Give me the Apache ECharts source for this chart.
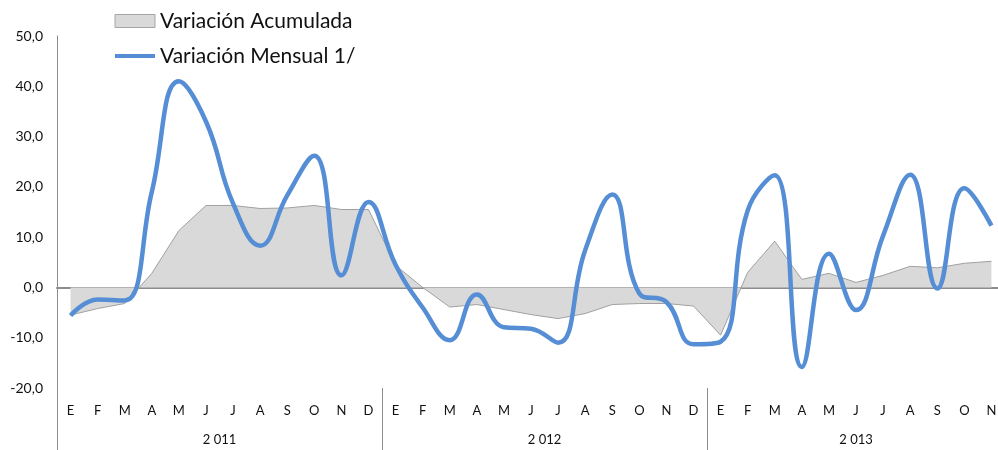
<!DOCTYPE html>
<html>
<head>
<meta charset="utf-8">
<script src="https://cdn.jsdelivr.net/npm/echarts@6/dist/echarts.min.js"></script>
<style>
  html, body { margin: 0; padding: 0; background: #fff; overflow: hidden; }
  #main { width: 1010px; height: 450px; }
</style>
</head>
<body>
<div id="main"></div>
<script>
// categorías: meses 2011, 2012 y 2013 (hasta noviembre)
const months = [
  'E','F','M','A','M','J','J','A','S','O','N','D',
  'E','F','M','A','M','J','J','A','S','O','N','D',
  'E','F','M','A','M','J','J','A','S','O','N'
];
const years = ['2 011', '2 012', '2 013'];
const yearStart = [0, 12, 24];
const yearLength = [12, 12, 11];

const acumulada = [
  -5.5, -4.2, -3.2, 2.8, 11.3, 16.3, 16.3, 15.7, 15.8, 16.3, 15.5, 15.5,
  4.4, 0.0, -3.9, -3.4, -4.4, -5.4, -6.2, -5.2, -3.4, -3.2, -3.2, -3.7,
  -9.5, 3.0, 9.2, 1.6, 2.8, 1.0, 2.4, 4.2, 3.9, 4.8, 5.2
];
const mensual = [
  -5.6, -2.4, -2.6, 19.0, 41.0, 33.0, 16.7, 8.3, 18.3, 26.2, 2.4, 17.0,
  4.5, -4.0, -10.5, -1.4, -7.9, -8.2, -11.0, 7.4, 18.5, -1.2, -2.9, -11.3,
  -10.8, 15.3, 22.3, -15.8, 6.7, -4.5, 10.3, 22.4, -0.2, 19.7, 12.3
];
const yTicks = { min: -20, max: 50, interval: 10 };

const yearMid = yearStart.map((s, i) => s + yearLength[i] / 2);
const font = 'Lato, "Open Sans", sans-serif';

const myChart = echarts.init(document.getElementById('main'));
myChart.setOption({
  animation: false,
  legend: {
    orient: 'vertical',
    left: 108,
    top: 5,
    itemWidth: 40,
    itemHeight: 13,
    itemGap: 13,
    textStyle: { fontFamily: font, fontSize: 21, color: '#111', lineHeight: 22 },
    data: [
      { name: 'Variación Acumulada', icon: 'rect',
        itemStyle: { color: '#d9d9d9', borderColor: '#a5a5a5', borderWidth: 1 } },
      { name: 'Variación Mensual 1/',
        itemStyle: { color: 'rgba(0,0,0,0)', borderWidth: 0 },
        lineStyle: { color: '#558ed5', width: 4 } }
    ]
  },
  // la rejilla sigue más allá del borde derecho, como en el original
  grid: { left: 57, top: 36, right: 5, bottom: 62 },
  xAxis: [
    {
      type: 'category',
      data: months,
      axisLine: { onZero: true, lineStyle: { color: '#8c8c8c', width: 2 } },
      axisTick: { show: false },
      axisLabel: { show: false }
    },
    {
      type: 'category',
      data: months,
      position: 'bottom',
      axisLine: { show: false, onZero: false },
      axisTick: { show: false },
      axisLabel: { margin: 16, fontFamily: font, fontSize: 13, color: '#111' }
    },
    {
      type: 'value',
      min: 0,
      max: months.length,
      position: 'bottom',
      splitLine: { show: false },
      axisLine: { show: false, onZero: false },
      axisTick: {
        show: true, length: 62, customValues: yearStart,
        lineStyle: { color: '#8c8c8c', width: 1 }
      },
      axisLabel: {
        margin: 45, fontFamily: font, fontSize: 13, color: '#111',
        customValues: yearMid,
        formatter: function (v) { return years[yearMid.indexOf(v)]; }
      }
    }
  ],
  yAxis: {
    type: 'value',
    min: yTicks.min,
    max: yTicks.max,
    interval: yTicks.interval,
    splitLine: { show: false },
    axisLine: { show: true, lineStyle: { color: '#8c8c8c', width: 1 } },
    axisTick: { show: false },
    axisLabel: {
      margin: 14, fontFamily: font, fontSize: 14, color: '#111',
      formatter: function (v) { return v.toFixed(1).replace('.', ','); }
    }
  },
  series: [
    {
      name: 'Variación Acumulada',
      type: 'line',
      xAxisIndex: 0,
      data: acumulada,
      symbol: 'none',
      itemStyle: { color: '#d9d9d9' },
      lineStyle: { color: '#a0a0a0', width: 1 },
      areaStyle: { color: '#d9d9d9', opacity: 1 }
    },
    {
      name: 'Variación Mensual 1/',
      type: 'line',
      xAxisIndex: 0,
      data: mensual,
      smooth: 0.45,
      smoothConstraint: false,
      symbol: 'none',
      itemStyle: { color: '#558ed5' },
      lineStyle: { color: '#558ed5', width: 4.5 }
    }
  ]
});
</script>
</body>
</html>
